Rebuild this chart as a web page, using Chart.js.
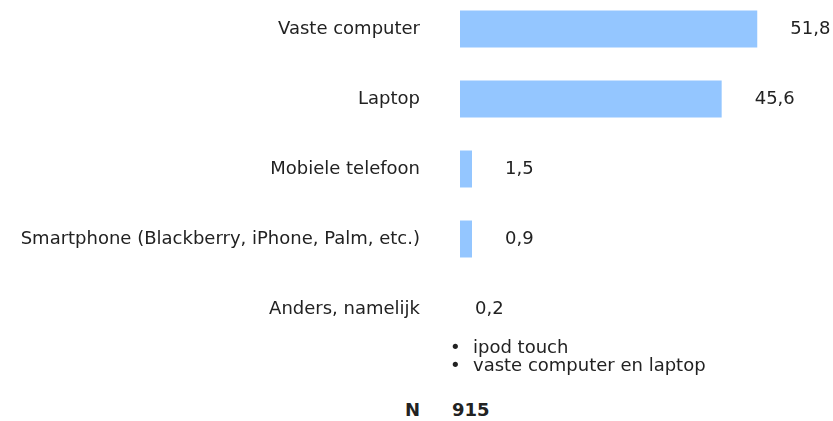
<!DOCTYPE html>
<html>
<head>
<meta charset="utf-8">
<script src="https://cdn.jsdelivr.net/npm/chart.js@4.4.1/dist/chart.umd.min.js"></script>
<style>
  html, body { margin: 0; padding: 0; background: #fff; }
  body { width: 833px; height: 421px; position: relative; overflow: hidden;
         font-family: "DejaVu Sans", Verdana, sans-serif; color: #222; }
  #c { position: absolute; left: 0; top: -6px; width: 833px; height: 350px; }
  .t { position: absolute; font-size: 18px; line-height: 18px; white-space: nowrap; }
  .b { font-weight: bold; }
</style>
</head>
<body>
<canvas id="c" width="833" height="350"></canvas>
<div class="t" style="left:450px; top:338px;">•</div>
<div class="t" style="left:473px; top:338px;">ipod touch</div>
<div class="t" style="left:450px; top:356px;">•</div>
<div class="t" style="left:473px; top:356px;">vaste computer en laptop</div>
<div class="t b" style="left:405px; top:401px;">N</div>
<div class="t b" style="left:452px; top:401px;">915</div>
<script>
const categories = [
  "Vaste computer",
  "Laptop",
  "Mobiele telefoon",
  "Smartphone (Blackberry, iPhone, Palm, etc.)",
  "Anders, namelijk"
];
const percentages = [51.8, 45.6, 1.5, 0.9, 0.2];

const BAR_COLOR = "rgb(148,198,255)";
const FONT = "DejaVu Sans";
const FONT_SIZE = 18;

const valueLabels = {
  id: "valueLabels",
  afterDatasetsDraw(chart) {
    const ctx = chart.ctx;
    const meta = chart.getDatasetMeta(0);
    ctx.save();
    ctx.font = FONT_SIZE + "px '" + FONT + "'";
    ctx.fillStyle = "#222";
    ctx.textAlign = "left";
    ctx.textBaseline = "middle";
    meta.data.forEach((bar, i) => {
      const v = percentages[i];
      const shown = v >= 0.5;
      const x = shown ? bar.x + 33 : bar.base + 15;
      ctx.fillText(v.toFixed(1).replace(".", ","), x, bar.y);
    });
    ctx.restore();
  }
};

new Chart(document.getElementById("c"), {
  type: "bar",
  data: {
    labels: categories,
    datasets: [{
      data: percentages,
      backgroundColor: (c) => (c.raw >= 0.5 ? BAR_COLOR : "rgba(0,0,0,0)"),
      borderWidth: 0,
      categoryPercentage: 1,
      barPercentage: 37 / 70,
      minBarLength: 12
    }]
  },
  options: {
    indexAxis: "y",
    responsive: false,
    animation: false,
    layout: { padding: 0 },
    plugins: { legend: { display: false }, tooltip: { enabled: false } },
    scales: {
      x: { display: false, min: 0, max: 65 },
      y: {
        afterFit: (s) => { s.width = 460; s.paddingTop = 0; s.paddingBottom = 0; },
        grid: { display: false, drawTicks: false },
        border: { display: false },
        ticks: {
          padding: 40,
          color: "#222",
          font: { family: FONT, size: FONT_SIZE }
        }
      }
    }
  },
  plugins: [valueLabels]
});
</script>
</body>
</html>
